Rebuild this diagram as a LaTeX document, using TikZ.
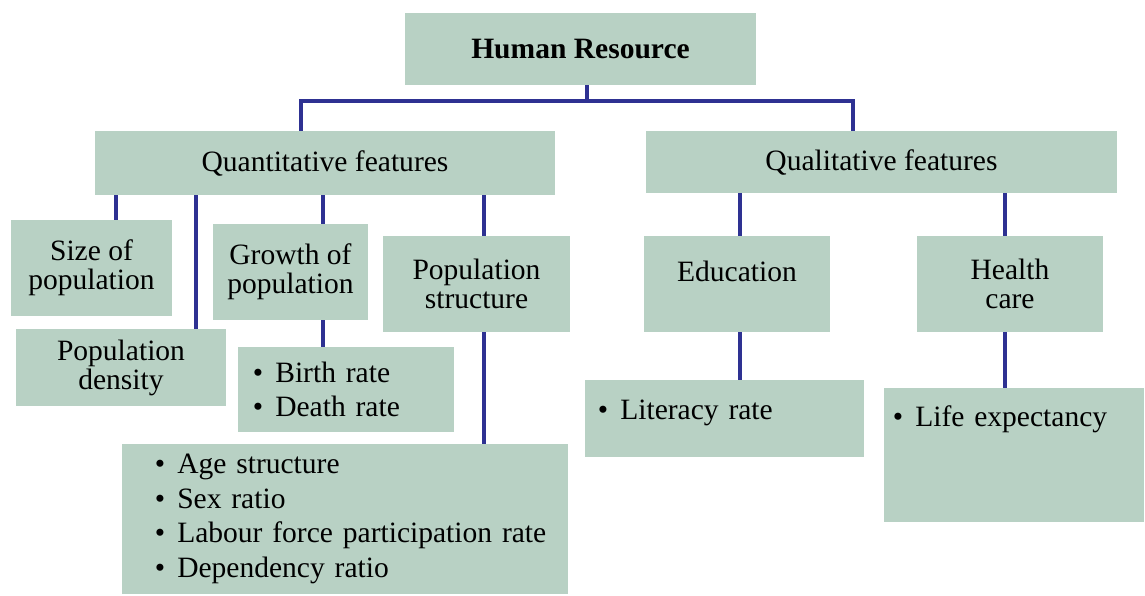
\documentclass[tikz,border=0pt]{standalone}
\usepackage{fontspec}
\setmainfont{Liberation Serif}
\usepackage{xcolor}
\usepackage{tikz}

\definecolor{boxgreen}{HTML}{B8D1C4}
\definecolor{linkblue}{HTML}{2E3192}

% bullet with left padding
\newcommand{\bul}[1]{\hspace*{#1}\textbullet\hspace{0.3cm}}

\begin{document}
\begin{tikzpicture}[
  x=0.025cm, y=-0.025cm,
  box/.style={rectangle, fill=boxgreen, inner sep=0pt, align=center, font=\fontsize{21}{20.6}\selectfont},
  listbox/.style={rectangle, fill=boxgreen, inner xsep=0.2cm, inner ysep=0pt, align=left, font=\fontsize{21}{24.6}\selectfont},
  link/.style={draw=linkblue, line width=2.2pt}
]

\useasboundingbox (0,0) rectangle (1145,595);

% Level 0: Root
\node[box, minimum width=8.775cm, minimum height=1.8cm, font=\bfseries\fontsize{21}{20.6}\selectfont] (hr) at (580.5,49) {Human Resource};

% Level 1: Feature groups
\node[box, minimum width=11.5cm, minimum height=1.6cm] (quant) at (325,163) {Quantitative features};
\node[box, minimum width=11.775cm, minimum height=1.55cm] (qual) at (881.5,162) {Qualitative features};

% Level 2: Quantitative features
\node[box, minimum width=4.025cm, minimum height=2.4cm] (size) at (91.5,268) {Size of\\population};
\node[box, minimum width=5.25cm, minimum height=1.925cm] (density) at (121,367.5) {Population\\density};
\node[box, minimum width=3.875cm, minimum height=2.4cm] (growth) at (290.5,272) {Growth of\\population};
\node[box, minimum width=4.675cm, minimum height=2.4cm] (struct) at (476.5,284) {Population\\structure};

% Level 2: Qualitative features
\node[box, minimum width=4.65cm, text height=1.125cm, text depth=1.275cm] (edu) at (737,284) {Education};
\node[box, minimum width=4.65cm, minimum height=2.4cm] (health) at (1010,284) {Health\\care};

% Level 3: Lists
\node[listbox, minimum width=5.4cm, minimum height=2.125cm, text width=5cm] (birth) at (346,389.5)
  {\bul{0.175cm}Birth rate\\\bul{0.175cm}Death rate};
\node[listbox, minimum width=11.15cm, minimum height=3.75cm, text width=10.75cm] (age) at (345,519)
  {\bul{0.625cm}Age structure\\\bul{0.625cm}Sex ratio\\\bul{0.625cm}Labour force participation rate\\\bul{0.625cm}Dependency ratio};
\node[listbox, text width=6.575cm, text height=0.975cm, text depth=0.95cm] (lit) at (724.5,418.5)
  {\bul{0.125cm}Literacy rate};
\node[listbox, text width=6.1cm, text height=0.95cm, text depth=2.4cm] (life) at (1014,455)
  {\bul{0.025cm}Life expectancy};

% Connectors
\coordinate (bus) at (587,101);
\draw[link] (hr.south -| bus) -- (bus);
\draw[link] (quant.north -| 301,0) |- (bus) -| (qual.north -| 853,0);

\draw[link] (quant.south -| 116,0) -- (size.north -| 116,0);
\draw[link] (quant.south -| 196,0) -- (density.north -| 196,0);
\draw[link] (quant.south -| 323,0) -- (growth.north -| 323,0);
\draw[link] (quant.south -| 484,0) -- (struct.north -| 484,0);
\draw[link] (growth.south -| 323,0) -- (birth.north -| 323,0);
\draw[link] (struct.south -| 484,0) -- (age.north -| 484,0);

\draw[link] (qual.south -| 740,0) -- (edu.north -| 740,0);
\draw[link] (qual.south -| 1005,0) -- (health.north -| 1005,0);
\draw[link] (edu.south -| 740,0) -- (lit.north -| 740,0);
\draw[link] (health.south -| 1005,0) -- (life.north -| 1005,0);

\end{tikzpicture}
\end{document}
